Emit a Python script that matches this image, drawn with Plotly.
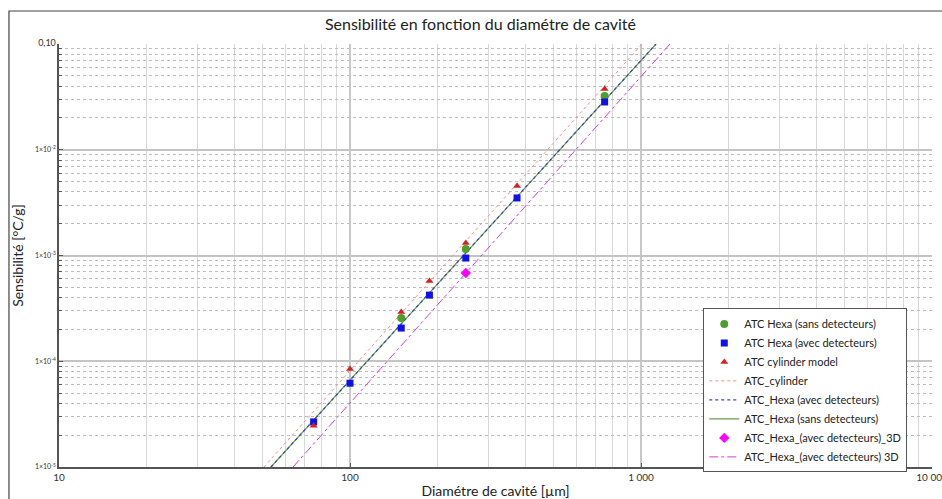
import plotly.graph_objects as go

# ---- data ----
diam_hexa_avec = [75, 100, 150, 187.5, 250, 375, 750]
sens_hexa_avec = [2.67e-5, 6.2e-5, 2.06e-4, 4.22e-4, 9.46e-4, 3.5e-3, 2.83e-2]

diam_hexa_sans = [150, 250, 750]
sens_hexa_sans = [2.56e-4, 1.15e-3, 3.22e-2]

diam_cyl = [75, 100, 150, 187.5, 250, 375, 750]
sens_cyl = [2.45e-5, 8.45e-5, 2.92e-4, 5.74e-4, 1.31e-3, 4.54e-3, 3.75e-2]

diam_3d = [250]
sens_3d = [6.84e-4]

line_cyl_x = [50.6, 1008]
line_cyl_y = [1e-5, 0.1]
line_hexa_x = [53.5, 1126]
line_hexa_y = [1e-5, 0.1]
line_3d_x = [63.7, 1258]
line_3d_y = [1e-5, 0.1]

x_tickvals = [10, 100, 1000, 10000]
x_ticktext = ["10", "100", "1 000", "10 000"]
y_tickvals = [1e-5, 1e-4, 1e-3, 1e-2, 1e-1]
y_ticktext = ["1×10<sup>-5</sup>", "1×10<sup>-4</sup>", "1×10<sup>-3</sup>",
              "1×10<sup>-2</sup>", "<span style='font-size:9px'>0,10</span>"]

FONT = "Lato, 'Open Sans', sans-serif"

fig = go.Figure()

# lines first (drawn beneath markers)
fig.add_trace(go.Scatter(x=line_cyl_x, y=line_cyl_y, mode="lines",
                         name="ATC_cylinder", legendrank=4,
                         line=dict(color="#f29090", width=1, dash="dot")))
fig.add_trace(go.Scatter(x=line_hexa_x, y=line_hexa_y, mode="lines",
                         name="ATC_Hexa (sans detecteurs)", legendrank=6,
                         line=dict(color="#6a9a50", width=1.2)))
fig.add_trace(go.Scatter(x=line_hexa_x, y=line_hexa_y, mode="lines",
                         name="ATC_Hexa (avec detecteurs)", legendrank=5,
                         line=dict(color="#3a4aa8", width=1.2, dash="dot")))
fig.add_trace(go.Scatter(x=line_3d_x, y=line_3d_y, mode="lines",
                         name="ATC_Hexa_(avec detecteurs) 3D", legendrank=8,
                         line=dict(color="#d040d0", width=1, dash="dashdot")))

# markers
fig.add_trace(go.Scatter(x=diam_hexa_sans, y=sens_hexa_sans, mode="markers",
                         name="ATC Hexa (sans detecteurs)", legendrank=1,
                         marker=dict(symbol="circle", size=8, color="#4c9f2a")))
fig.add_trace(go.Scatter(x=diam_hexa_avec, y=sens_hexa_avec, mode="markers",
                         name="ATC Hexa (avec detecteurs)", legendrank=2,
                         marker=dict(symbol="square", size=7, color="#1010e8")))
fig.add_trace(go.Scatter(x=diam_cyl, y=sens_cyl, mode="markers",
                         name="ATC cylinder model", legendrank=3,
                         marker=dict(symbol="triangle-up", size=7, color="#d82020")))
fig.add_trace(go.Scatter(x=diam_3d, y=sens_3d, mode="markers",
                         name="ATC_Hexa_(avec detecteurs)_3D", legendrank=7,
                         marker=dict(symbol="diamond", size=8, color="#ff00ff")))

minor_vals = []
for d in [10, 100, 1000]:
    for k in range(2, 10):
        minor_vals.append(k * d)
minor_yvals = []
for d in [1e-5, 1e-4, 1e-3, 1e-2]:
    for k in range(2, 10):
        minor_yvals.append(k * d)

fig.update_xaxes(type="log", range=[1, 4], automargin=False,
                 tickmode="array", tickvals=x_tickvals, ticktext=x_ticktext,
                 ticklabeloverflow="allow",
                 ticks="inside", ticklen=4, tickcolor="#555",
                 showline=True, linecolor="#555", linewidth=1.5,
                 showgrid=True, gridcolor="#c8c8c8", gridwidth=1.5,
                 tickfont=dict(size=10, color="#333", family=FONT),
                 minor=dict(tickmode="array", tickvals=minor_vals, showgrid=True,
                            gridcolor="#d8d8d8", gridwidth=1, griddash="solid",
                            ticks=""),
                 title=dict(text="Diamétre de cavité [µm]", standoff=4,
                            font=dict(size=14, color="#222", family=FONT)),
                 zeroline=False)
fig.update_yaxes(type="log", range=[-5, -1], automargin=False,
                 tickmode="array", tickvals=y_tickvals, ticktext=y_ticktext,
                 ticks="inside", ticklen=4, tickcolor="#555",
                 showline=True, linecolor="#555", linewidth=1.5,
                 showgrid=True, gridcolor="#c4c4c4", gridwidth=2,
                 tickfont=dict(size=7, color="#333", family=FONT),
                 minor=dict(tickmode="array", tickvals=minor_yvals, showgrid=True,
                            gridcolor="#bdbdbd", gridwidth=1, griddash="dot",
                            ticks="inside", ticklen=3, tickcolor="#555"),
                 title=dict(text="Sensibilité [°C/g]", standoff=8,
                            font=dict(size=14, color="#222", family=FONT)),
                 zeroline=False)

fig.update_layout(
    width=942, height=499,
    margin=dict(l=59, r=10, t=44, b=32),
    paper_bgcolor="white", plot_bgcolor="white",
    font=dict(family=FONT, color="#222"),
    title=dict(text="Sensibilité en fonction du diamétre de cavité",
               x=0.51, xanchor="center", y=0.952, yanchor="middle",
               font=dict(size=16, color="#222", family=FONT)),
    legend=dict(x=0.738, y=0.375, xanchor="left", yanchor="top",
                bgcolor="white", bordercolor="#555", borderwidth=1,
                font=dict(size=11, color="#222", family=FONT),
                tracegroupgap=0, itemwidth=30),
    showlegend=True,
    shapes=[dict(type="rect", xref="paper", yref="paper",
                 x0=-0.0573, x1=1.02, y0=-0.09, y1=1.078,
                 line=dict(color="#444", width=1.2), fillcolor="rgba(0,0,0,0)",
                 layer="below")],
)

fig.write_html("out.html", config={"displayModeBar": False},
               post_script="document.body.style.margin='0';document.body.style.padding='0';")
